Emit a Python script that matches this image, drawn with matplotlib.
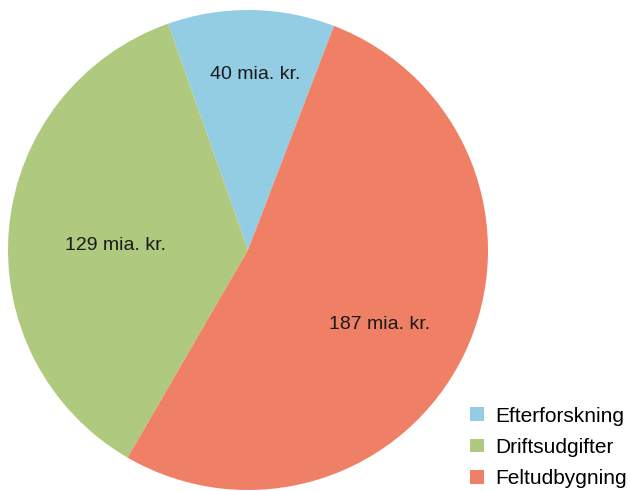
import matplotlib.pyplot as plt

# Investeringer i milliarder kroner
categories = ['Efterforskning', 'Driftsudgifter', 'Feltudbygning']
values = [40, 129, 187]
value_labels = ['40 mia. kr.', '129 mia. kr.', '187 mia. kr.']
colors = ['#92cde3', '#afca7e', '#ef8066']

# placering af værdietiketter (enhedscirkel)
label_x = [0.03, -0.55, 0.55]
label_y = [0.73, 0.02, -0.31]

plt.rcParams['font.family'] = ['Liberation Sans', 'DejaVu Sans']

fig = plt.figure(figsize=(6.3, 4.91), dpi=100)
ax = fig.add_axes([8 / 630, 1 / 491, 480 / 630, 480 / 491])

wedges, _ = ax.pie(values, colors=colors, startangle=69, counterclock=True,
                   radius=1.0, wedgeprops=dict(linewidth=0))

for txt, x, y in zip(value_labels, label_x, label_y):
    ax.text(x, y, txt, ha='center', va='center', fontsize=14, color='#1a1a1a')

ax.set_xlim(-1, 1)
ax.set_ylim(-1, 1)
ax.set_aspect('equal')
ax.axis('off')

fig.legend(wedges, categories, loc='lower right', bbox_to_anchor=(1.0, 0.0),
           frameon=False, fontsize=15, handlelength=0.65, handleheight=0.65,
           handletextpad=0.55, labelspacing=0.58, borderaxespad=0.0,
           borderpad=0.15)

fig.savefig('out.png', dpi=100)
